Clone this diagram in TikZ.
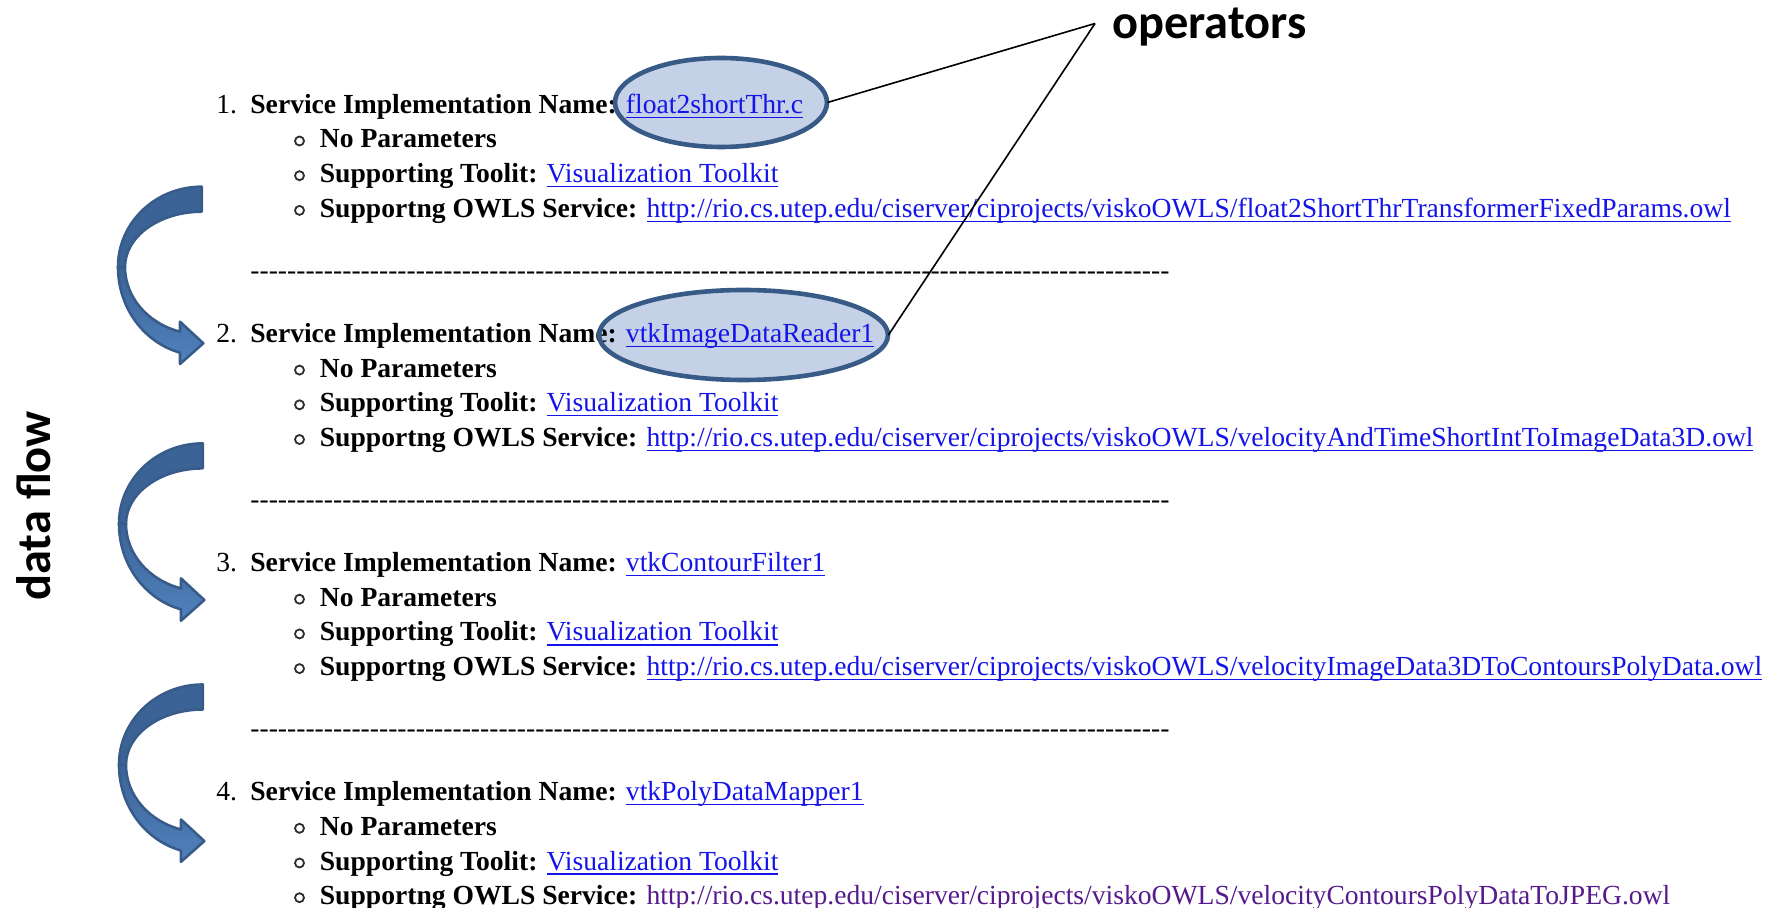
\documentclass[tikz,border=0pt]{standalone}
\usepackage{fontspec}
\setmainfont{Liberation Serif}
\newfontfamily\calloutfont{Carlito}
\usetikzlibrary{shapes.geometric}

\definecolor{linkblue}{RGB}{20,20,232}
\definecolor{visited}{RGB}{85,26,139}
\definecolor{ovalfill}{RGB}{196,209,231}
\definecolor{ovaledge}{RGB}{56,90,134}
\definecolor{arrowdark}{RGB}{60,99,150}
\definecolor{arrowlight}{RGB}{80,130,190}
\definecolor{arrowedge}{RGB}{56,92,138}
\definecolor{bulletgray}{RGB}{45,45,45}

% underlined hyperlink text in a given colour
\newcommand\linkul[2]{\begingroup\setbox0=\hbox{\color{#1}#2}%
  \rlap{\color{#1}\rule[-2.3pt]{\wd0}{0.6pt}}\box0\endgroup}

\tikzset{
  pagetext/.style={anchor=base west, inner sep=0pt, font=\fontsize{13.8}{16}\selectfont},
  callout/.style={anchor=base west, inner sep=0pt, font=\calloutfont\bfseries\fontsize{24.2}{28}\selectfont},
  listbullet/.style={draw=bulletgray, line width=0.9pt},
  opoval/.style={ellipse, fill=ovalfill, inner sep=0pt},
  ovalrim/.style={draw=ovaledge, line width=2.3pt},
  leader/.style={draw=black, line width=0.8pt},
  flowarrow/.pic={
    % back face of the ribbon
    \filldraw[fill=arrowdark, draw=arrowedge, line width=1.3pt, line join=round]
      (0,0) arc(270:180:83.7 and 80.3) -- (-76.7,80.3)
      arc(180:270:76.7 and 55.3) -- cycle;
    % front face with the arrow head
    \shadedraw[top color=arrowdark, bottom color=arrowlight, draw=arrowedge,
               line width=1.3pt, line join=round]
      (-83.7,80.3) arc(180:105:83.7 and 88.7) -- (-21.7,177.3) -- (1.6,156.6)
      -- (-21.7,135) -- (-21.7,145) arc(106.4:180:76.7 and 67.5) -- cycle;
  }
}

% one numbered service entry: id, number, baseline, name, url, url colour
\newcommand\svcitem[6]{%
  \node[pagetext] (num#1) at (216,#3) {#2.};
  \node[pagetext] (name#1) at (250,#3)
    {\bfseries Service Implementation Name: \mdseries\linkul{linkblue}{#4}};
  \draw[listbullet] (299.5,{#3+34.7-7}) circle[radius=4.5];
  \node[pagetext] (par#1) at (319.5,{#3+34.7}) {\bfseries No Parameters};
  \draw[listbullet] (299.5,{#3+69.4-7}) circle[radius=4.5];
  \node[pagetext] (kit#1) at (319.5,{#3+69.4})
    {\bfseries Supporting Toolit: \mdseries\linkul{linkblue}{Visualization Toolkit}};
  \draw[listbullet] (299.5,{#3+104.1-7}) circle[radius=4.5];
  \node[pagetext] (owl#1) at (319.5,{#3+104.1})
    {\bfseries Supportng OWLS Service: \mdseries\linkul{#6}{#5}};
}
\newcommand\dashrow[2]{%
  \node[pagetext] (sep#1) at (250,#2) {\foreach \i in {1,...,100}{-\kern0pt}};
}

\begin{document}
\begin{tikzpicture}[x=0.5pt, y=-0.5pt]
  \useasboundingbox (0,0) rectangle (1783,908);

  % highlighted operator names (fill under the text)
  \node[opoval, minimum width=106pt, minimum height=44.5pt] (opA) at (721,102.5) {};
  \node[opoval, minimum width=144.5pt, minimum height=45pt] (opB) at (743.5,335) {};

  \svcitem{1}{1}{113.3}{float2shortThr.c}
    {http://rio.cs.utep.edu/ciserver/ciprojects/viskoOWLS/float2ShortThrTransformerFixedParams.owl}{linkblue}
  \dashrow{1}{279.2}
  \svcitem{2}{2}{342.4}{vtkImageDataReader1}
    {http://rio.cs.utep.edu/ciserver/ciprojects/viskoOWLS/velocityAndTimeShortIntToImageData3D.owl}{linkblue}
  \dashrow{2}{508.3}
  \svcitem{3}{3}{571.5}{vtkContourFilter1}
    {http://rio.cs.utep.edu/ciserver/ciprojects/viskoOWLS/velocityImageData3DToContoursPolyData.owl}{linkblue}
  \dashrow{3}{737.4}
  \svcitem{4}{4}{800.6}{vtkPolyDataMapper1}
    {http://rio.cs.utep.edu/ciserver/ciprojects/viskoOWLS/velocityContoursPolyDataToJPEG.owl}{visited}

  % oval rims on top of the text
  \draw[ovalrim] (opA.center) ellipse[x radius=106, y radius=44.5];
  \draw[ovalrim] (opB.center) ellipse[x radius=144.5, y radius=45];

  % callout
  \node[callout] (ops) at (1112,39) {operators};
  \coordinate (opsTip) at (1095,23.5);
  \draw[leader] (opA.east) -- (opsTip);
  \draw[leader] (opB.east) -- (opsTip);

  % data flow arrows
  \pic at (201.7,186.7) {flowarrow};
  \pic at (202.7,443.4) {flowarrow};
  \pic at (202.7,684.5) {flowarrow};
  \node[callout, rotate=90] (flow) at (50,601) {data flow};
\end{tikzpicture}
\end{document}
